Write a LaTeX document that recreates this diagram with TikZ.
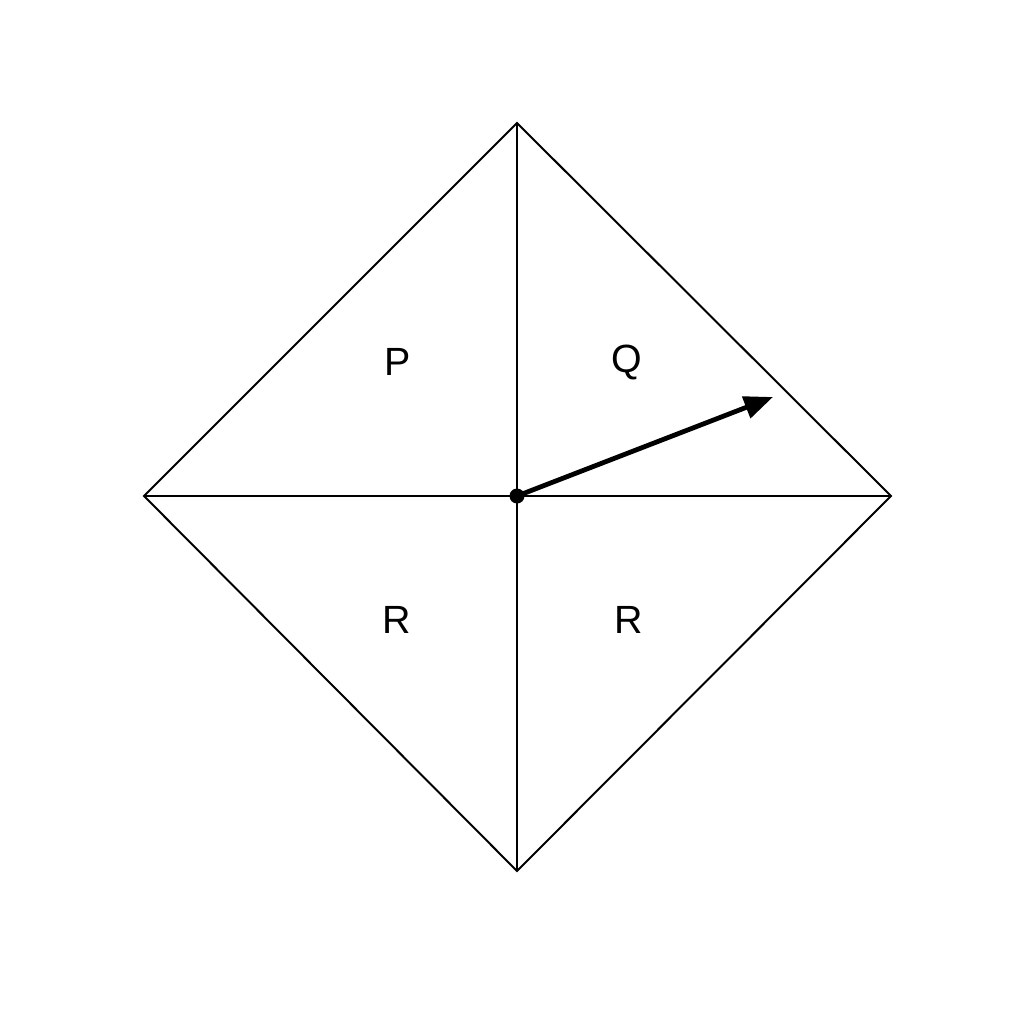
\documentclass[tikz,border=0pt]{standalone}
\usepackage{fontspec}
\setmainfont{Liberation Sans}
\usetikzlibrary{arrows.meta}
\begin{document}
\begin{tikzpicture}[x=0.025cm,y=-0.025cm,
  edge/.style={line width=1.4pt, line join=miter},
  lbl/.style={font=\fontsize{28}{30}\selectfont, inner sep=0pt},
  vec/.style={line width=3.4pt, -{Triangle[length=0.72cm,width=0.56cm]}}]
\useasboundingbox[fill=white] (0,0) rectangle (1024,1024);
\coordinate (T) at (517,123);
\coordinate (L) at (144,496);
\coordinate (Rt) at (891,496);
\coordinate (B) at (517,871);
\coordinate (O) at (517,496);
\coordinate (A) at (773,397);
\draw[edge] (T) -- (Rt) -- (B) -- (L) -- cycle;
\draw[edge] (T) -- (B);
\draw[edge] (L) -- (Rt);
\node[lbl] (p) at (398,362) {P};
\node[lbl] (q) at (627,362) {Q};
\node[lbl] (r1) at (397,620) {R};
\node[lbl] (r2) at (629,620) {R};
\draw[vec] (O) -- (A);
\fill (O) circle (7.5);
\end{tikzpicture}
\end{document}
